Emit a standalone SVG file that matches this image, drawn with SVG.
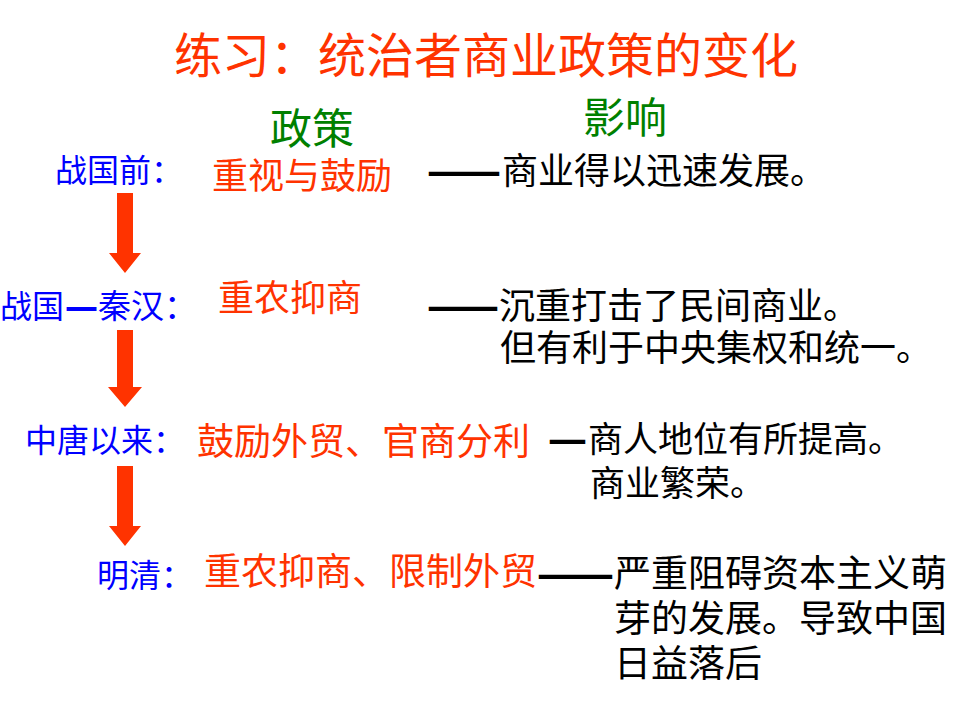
<svg xmlns="http://www.w3.org/2000/svg" width="960" height="720" viewBox="0 0 960 720">
<style>
text { font-family: "Noto Sans CJK SC", "Noto Sans CJK TC", sans-serif; }
.title { fill: #FF3300; font-size: 48px; }
.head { fill: #008000; font-size: 42px; }
.era { fill: #0000FF; font-size: 32px; }
.pol { fill: #FF3300; font-size: 36px; }
.eff { fill: #000000; font-size: 36px; }
.dash { fill: #000000; stroke: #000000; stroke-width: 2px; font-size: 36px; }
.bdash { fill: #0000FF; stroke: #0000FF; stroke-width: 2px; font-size: 33px; }
.arrow { fill: #FF3300; }
</style>
<rect width="960" height="720" fill="#FFFFFF"/>
<g id="title"><text class="title" x="174" y="73">练习：统治者商业政策的变化</text></g>
<g id="header-policy"><text class="head" x="270" y="144">政策</text></g>
<g id="header-effect"><text class="head" x="583" y="133">影响</text></g>

<g id="row1">
<text class="era" x="55" y="182">战国前：</text>
<text class="pol" x="212" y="189">重视与鼓励</text>
<text class="dash" x="428" y="184" textLength="72" lengthAdjust="spacingAndGlyphs">——</text>
<text class="eff" x="502" y="184">商业得以迅速发展。</text>
</g>
<g id="row2">
<text class="era" x="0" y="318">战国</text>
<text class="bdash" x="66" y="318" textLength="31" lengthAdjust="spacingAndGlyphs">—</text>
<text class="era" x="98" y="318" style="font-size:33px">秦汉：</text>
<text class="pol" x="218" y="311">重农抑商</text>
<text class="dash" x="428" y="319" textLength="70" lengthAdjust="spacingAndGlyphs">——</text>
<text class="eff" x="499" y="319">沉重打击了民间商业。</text>
<text class="eff" x="500" y="361">但有利于中央集权和统一。</text>
</g>
<g id="row3">
<text class="era" x="25" y="452">中唐以来：</text>
<text class="pol" x="197" y="455" style="font-size:37px">鼓励外贸、官商分利</text>
<text class="dash" x="549" y="452" textLength="37" lengthAdjust="spacingAndGlyphs">—</text>
<text class="eff" x="588" y="452" style="font-size:35px">商人地位有所提高。</text>
<text class="eff" x="590" y="496" style="font-size:35px">商业繁荣。</text>
</g>
<g id="row4">
<text class="era" x="97" y="587">明清：</text>
<text class="pol" x="204" y="585" style="font-size:37px">重农抑商、限制外贸</text>
<text class="dash" x="538" y="587" textLength="75" lengthAdjust="spacingAndGlyphs">——</text>
<text class="eff" x="614" y="587" style="font-size:37px">严重阻碍资本主义萌</text>
<text class="eff" x="614" y="632" style="font-size:37px">芽的发展。导致中国</text>
<text class="eff" x="614" y="677" style="font-size:37px">日益落后</text>
</g>

<g id="connectors">
<polygon class="arrow" points="117,193 133,193 133,253 141,253 125,273 109,253 117,253"/>
<polygon class="arrow" points="117,330 133,330 133,387 142,387 125,407 108,387 117,387"/>
<polygon class="arrow" points="117,466 133,466 133,526 141,526 125,546 109,526 117,526"/>
</g>
</svg>
